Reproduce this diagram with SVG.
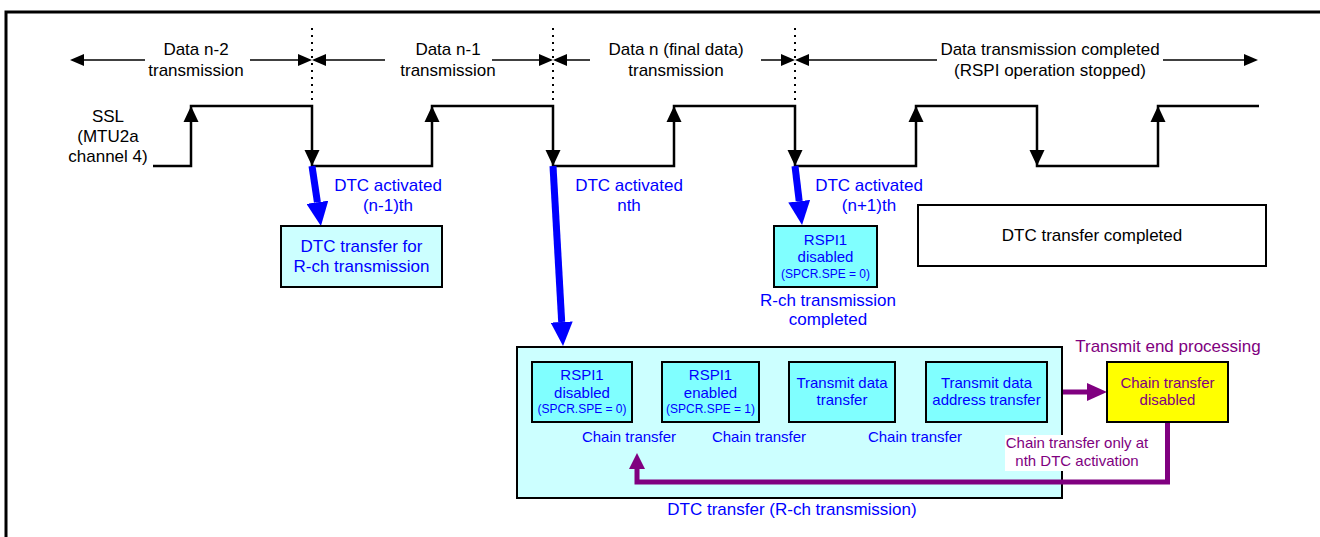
<svg xmlns="http://www.w3.org/2000/svg" width="1320" height="537" viewBox="0 0 1320 537">
<style>
text{font-family:"Liberation Sans",Arial,sans-serif;text-anchor:middle}
.t17{font-size:17px}
.t15{font-size:15px}
.t12{font-size:12px}
.blk{fill:#000}
.blu{fill:#0000ff}
.pur{fill:#800080}
.box{stroke:#000;stroke-width:2}
.lt{fill:#ccffff}
.cy{fill:#80ffff}
.thin{stroke:#000;stroke-width:1.5;fill:none}
.wave{stroke:#000;stroke-width:2.5;fill:none}
.dot{stroke:#000;stroke-width:2;stroke-dasharray:2 5;fill:none}
.bluL{stroke:#0000ff;fill:none}
.purL{stroke:#800080;stroke-width:5;fill:none}
</style>
<defs>
<marker id="hBig" markerUnits="userSpaceOnUse" markerWidth="24" markerHeight="22" viewBox="0 0 24 22" refX="0" refY="11" orient="auto"><path d="M0,0 L24,11 L0,22 z" fill="#0000ff"/></marker>
<marker id="hSm" markerUnits="userSpaceOnUse" markerWidth="15" markerHeight="15" viewBox="0 0 15 15" refX="0" refY="7.5" orient="auto"><path d="M0,0 L15,7.5 L0,15 z" fill="#0000ff"/></marker>
<marker id="hPur" markerUnits="userSpaceOnUse" markerWidth="20" markerHeight="18" viewBox="0 0 20 18" refX="0" refY="9" orient="auto"><path d="M0,0 L20,9 L0,18 z" fill="#800080"/></marker>
<marker id="hPur2" markerUnits="userSpaceOnUse" markerWidth="16" markerHeight="16" viewBox="0 0 16 16" refX="0" refY="8" orient="auto"><path d="M0,0 L16,8 L0,16 z" fill="#800080"/></marker>
<marker id="hT" markerUnits="userSpaceOnUse" markerWidth="14" markerHeight="12" viewBox="0 0 14 12" refX="0" refY="6" orient="auto"><path d="M0,0 L14,6 L0,12 z" fill="#000"/></marker>
<path id="up" d="M0,0 L7.5,16 L-7.5,16 z" fill="#000"/>
<path id="dn" d="M0,0 L7.5,-16 L-7.5,-16 z" fill="#000"/>
</defs>

<rect width="1320" height="537" fill="#fff"/>
<path d="M6,537 V12 H1320" stroke="#000" stroke-width="3" fill="none"/>

<g id="timeline">
<path class="dot" d="M312,28 V100 M553,28 V100 M795,28 V100"/>
<path class="thin" d="M145,60 H84" marker-end="url(#hT)"/>
<path class="thin" d="M250,60 H298" marker-end="url(#hT)"/>
<path class="thin" d="M385,60 H326" marker-end="url(#hT)"/>
<path class="thin" d="M492,60 H539" marker-end="url(#hT)"/>
<path class="thin" d="M590,60 H567" marker-end="url(#hT)"/>
<path class="thin" d="M761,60 H781" marker-end="url(#hT)"/>
<path class="thin" d="M937,60 H809" marker-end="url(#hT)"/>
<path class="thin" d="M1163,60 H1244" marker-end="url(#hT)"/>
<text class="t17 blk" x="196" y="55">Data n-2</text>
<text class="t17 blk" x="196" y="76">transmission</text>
<text class="t17 blk" x="448" y="55">Data n-1</text>
<text class="t17 blk" x="448" y="76">transmission</text>
<text class="t17 blk" x="676" y="55">Data n (final data)</text>
<text class="t17 blk" x="676" y="76">transmission</text>
<text class="t17 blk" x="1050" y="55">Data transmission completed</text>
<text class="t17 blk" x="1050" y="76">(RSPI operation stopped)</text>
</g>

<g id="ssl">
<text class="t17 blk" x="108" y="122">SSL</text>
<text class="t17 blk" x="108" y="142">(MTU2a</text>
<text class="t17 blk" x="108" y="162">channel 4)</text>
<path class="wave" d="M153,166 H191 V106 H312 V166 H432 V106 H553 V166 H674 V106 H795 V166 H916 V106 H1037 V166 H1158 V106 H1259"/>
<use href="#up" x="191" y="106"/>
<use href="#up" x="432" y="106"/>
<use href="#up" x="674" y="106"/>
<use href="#up" x="916" y="106"/>
<use href="#up" x="1158" y="106"/>
<use href="#dn" x="312" y="166"/>
<use href="#dn" x="553" y="166"/>
<use href="#dn" x="795" y="166"/>
<use href="#dn" x="1037" y="166"/>
</g>

<g id="connectors">
<path class="bluL" stroke-width="7" d="M312,166 L317.4,202.3" marker-end="url(#hBig)"/>
<path class="bluL" stroke-width="7" d="M553,166 L561.7,322" marker-end="url(#hBig)"/>
<path class="bluL" stroke-width="7" d="M795,166 L799.2,201.2" marker-end="url(#hBig)"/>
<path class="bluL" stroke-width="3" d="M632,392 H647" marker-end="url(#hSm)"/>
<path class="bluL" stroke-width="3" d="M759,392 H774" marker-end="url(#hSm)"/>
<path class="bluL" stroke-width="3" d="M895,392 H911" marker-end="url(#hSm)"/>
<path class="purL" d="M1047,392 H1087" marker-end="url(#hPur)"/>
</g>

<g id="labels-activation">
<text class="t17 blu" x="388" y="191">DTC activated</text>
<text class="t17 blu" x="388" y="211">(n-1)th</text>
<text class="t17 blu" x="629" y="191">DTC activated</text>
<text class="t17 blu" x="629" y="211">nth</text>
<text class="t17 blu" x="869" y="191">DTC activated</text>
<text class="t17 blu" x="869" y="211">(n+1)th</text>
</g>

<g id="node-dtc-rch">
<rect class="box lt" x="281" y="226" width="161" height="61"/>
<text class="t17 blu" x="361.5" y="252">DTC transfer for</text>
<text class="t17 blu" x="361.5" y="272">R-ch transmission</text>
</g>

<g id="node-rspi-disabled-end">
<rect class="box cy" x="774" y="226" width="103" height="61"/>
<text class="t15 blu" x="825.5" y="245">RSPI1</text>
<text class="t15 blu" x="825.5" y="262">disabled</text>
<text class="t12 blu" x="825.5" y="278">(SPCR.SPE = 0)</text>
<text class="t17 blu" x="828" y="306">R-ch transmission</text>
<text class="t17 blu" x="828" y="325">completed</text>
</g>

<g id="node-dtc-completed">
<rect class="box" fill="#fff" x="918" y="205" width="348" height="61"/>
<text class="t17 blk" x="1092" y="241">DTC transfer completed</text>
</g>

<g id="node-container">
<rect class="box lt" x="517" y="347" width="545" height="151"/>
<text class="t17 blu" x="792" y="515">DTC transfer (R-ch transmission)</text>
</g>

<g id="node-b1">
<rect class="box cy" x="532" y="362" width="100" height="60"/>
<text class="t15 blu" x="582" y="380">RSPI1</text>
<text class="t15 blu" x="582" y="397.5">disabled</text>
<text class="t12 blu" x="582" y="413">(SPCR.SPE = 0)</text>
</g>

<g id="node-b2">
<rect class="box cy" x="662" y="362" width="97" height="60"/>
<text class="t15 blu" x="710.5" y="380">RSPI1</text>
<text class="t15 blu" x="710.5" y="397.5">enabled</text>
<text class="t12 blu" x="710.5" y="413">(SPCR.SPE = 1)</text>
</g>

<g id="node-b3">
<rect class="box cy" x="789" y="362" width="106" height="60"/>
<text class="t15 blu" x="842" y="388">Transmit data</text>
<text class="t15 blu" x="842" y="405">transfer</text>
</g>

<g id="node-b4">
<rect class="box cy" x="926" y="362" width="121" height="60"/>
<text class="t15 blu" x="986.5" y="388">Transmit data</text>
<text class="t15 blu" x="986.5" y="405">address transfer</text>
</g>

<g id="chain-labels">
<text class="t15 blu" x="629" y="442">Chain transfer</text>
<text class="t15 blu" x="759" y="442">Chain transfer</text>
<text class="t15 blu" x="915" y="442">Chain transfer</text>
</g>

<g id="node-chain-disabled">
<text class="t17 pur" x="1168" y="352">Transmit end processing</text>
<rect class="box" fill="#ffff00" x="1107" y="362" width="121" height="60"/>
<text class="t15 pur" x="1167.5" y="388">Chain transfer</text>
<text class="t15 pur" x="1167.5" y="405">disabled</text>
</g>

<g id="return-path">
<path class="purL" d="M1167.5,423 V482 H637 V469" marker-end="url(#hPur2)"/>
<rect x="1005" y="435" width="145" height="36" fill="#fff"/>
<text class="t15 pur" x="1077" y="448">Chain transfer only at</text>
<text class="t15 pur" x="1077" y="466">nth DTC activation</text>
</g>
</svg>
